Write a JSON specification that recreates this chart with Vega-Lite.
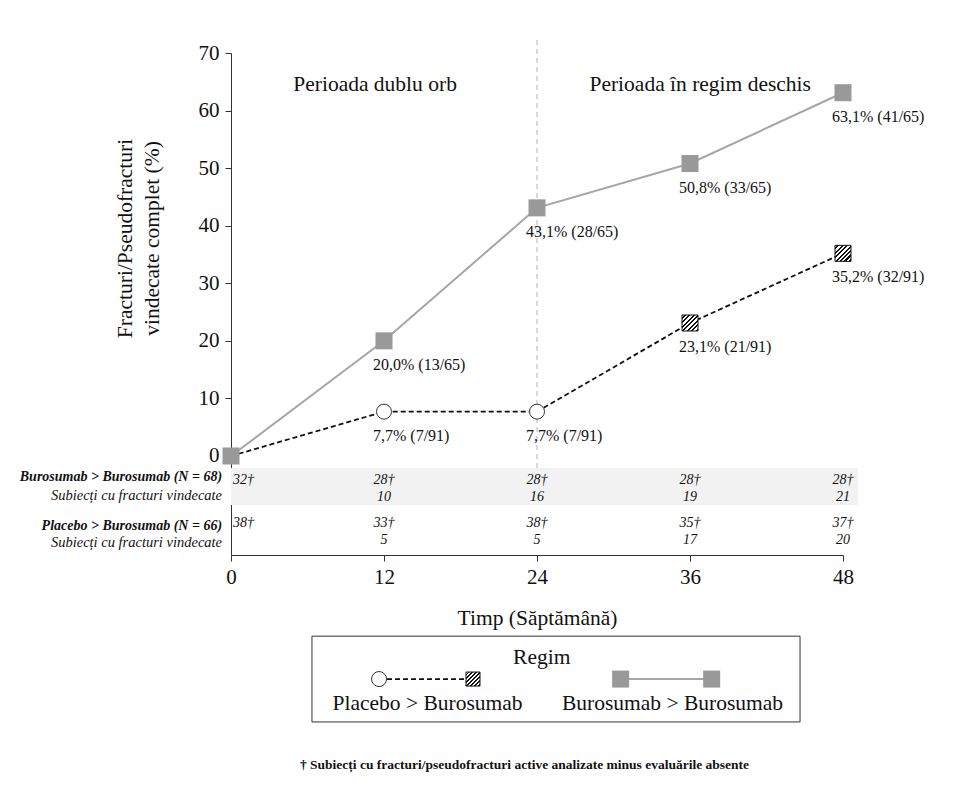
{
  "$schema": "https://vega.github.io/schema/vega-lite/v6.json",
  "width": 612,
  "height": 502,
  "autosize": {"type": "none"},
  "padding": {"left": 231, "top": 53, "right": 111, "bottom": 243},
  "background": "white",
  "config": {
    "view": {"stroke": null},
    "font": "Liberation Serif",
    "text": {"font": "Liberation Serif", "color": "#111"}
  },
  "datasets": {
    "one": [{"k": 1}],
    "series": [
      {"week": 0, "regimen": "Placebo > Burosumab", "pct": 0, "label": ""},
      {"week": 12, "regimen": "Placebo > Burosumab", "pct": 7.7, "label": "7,7% (7/91)"},
      {"week": 24, "regimen": "Placebo > Burosumab", "pct": 7.7, "label": "7,7% (7/91)"},
      {"week": 36, "regimen": "Placebo > Burosumab", "pct": 23.1, "label": "23,1% (21/91)"},
      {"week": 48, "regimen": "Placebo > Burosumab", "pct": 35.2, "label": "35,2% (32/91)"},
      {"week": 0, "regimen": "Burosumab > Burosumab", "pct": 0, "label": ""},
      {"week": 12, "regimen": "Burosumab > Burosumab", "pct": 20.0, "label": "20,0% (13/65)"},
      {"week": 24, "regimen": "Burosumab > Burosumab", "pct": 43.1, "label": "43,1% (28/65)"},
      {"week": 36, "regimen": "Burosumab > Burosumab", "pct": 50.8, "label": "50,8% (33/65)"},
      {"week": 48, "regimen": "Burosumab > Burosumab", "pct": 63.1, "label": "63,1% (41/65)"}
    ],
    "table": [
      {"week": 0, "regimen": "Burosumab > Burosumab", "assessed": "32†", "healed": null},
      {"week": 12, "regimen": "Burosumab > Burosumab", "assessed": "28†", "healed": "10"},
      {"week": 24, "regimen": "Burosumab > Burosumab", "assessed": "28†", "healed": "16"},
      {"week": 36, "regimen": "Burosumab > Burosumab", "assessed": "28†", "healed": "19"},
      {"week": 48, "regimen": "Burosumab > Burosumab", "assessed": "28†", "healed": "21"},
      {"week": 0, "regimen": "Placebo > Burosumab", "assessed": "38†", "healed": null},
      {"week": 12, "regimen": "Placebo > Burosumab", "assessed": "33†", "healed": "5"},
      {"week": 24, "regimen": "Placebo > Burosumab", "assessed": "38†", "healed": "5"},
      {"week": 36, "regimen": "Placebo > Burosumab", "assessed": "35†", "healed": "17"},
      {"week": 48, "regimen": "Placebo > Burosumab", "assessed": "37†", "healed": "20"}
    ]
  },
  "layer": [
    {
      "data": {"name": "one"},
      "mark": {"type": "rect", "fill": "#f2f2f2"},
      "encoding": {
        "x": {"datum": 0, "type": "quantitative",
          "scale": {"domain": [0, 48], "nice": false, "zero": false},
          "axis": {"values": [0, 12, 24, 36, 48], "title": "Timp (Săptămână)", "grid": false,
            "labelFont": "Liberation Serif", "labelFontSize": 21, "labelColor": "#111", "labelFlush": false,
            "titleFont": "Liberation Serif", "titleFontSize": 21.5, "titleFontWeight": "normal", "titleColor": "#111",
            "tickSize": 6, "labelPadding": 5, "titlePadding": 20, "domainColor": "#333", "tickColor": "#333"}},
        "x2": {"datum": 49.18},
        "y": {"datum": -2.08, "type": "quantitative",
          "scale": {"domain": [-17.2, 70], "nice": false, "zero": false},
          "axis": {"values": [0, 10, 20, 30, 40, 50, 60, 70], "title": ["Fracturi/Pseudofracturi", "vindecate complet (%)"], "grid": false,
            "labelFont": "Liberation Serif", "labelFontSize": 21, "labelColor": "#111",
            "titleFont": "Liberation Serif", "titleFontSize": 21.5, "titleFontWeight": "normal", "titleColor": "#111",
            "titleAngle": -90, "titleX": -106, "titleY": 185, "titleBaseline": "middle", "titleLineHeight": 27,
            "tickSize": 6, "labelPadding": 6, "domainColor": "#333", "tickColor": "#333"}},
        "y2": {"datum": -8.51}
      }
    },
    {
      "data": {"name": "one"},
      "mark": {"type": "rule", "stroke": "#b3b3b3", "strokeWidth": 1, "strokeDash": [5, 4]},
      "encoding": {"x": {"datum": 24}, "y": {"datum": 72.26}, "y2": {"datum": -2.08}}
    },
    {
      "data": {"name": "series"},
      "transform": [{"filter": "datum.regimen === 'Burosumab > Burosumab'"}],
      "mark": {"type": "line", "stroke": "#a6a6a6", "strokeWidth": 2},
      "encoding": {"x": {"field": "week", "type": "quantitative"}, "y": {"field": "pct", "type": "quantitative"}}
    },
    {
      "data": {"name": "series"},
      "transform": [{"filter": "datum.regimen === 'Placebo > Burosumab'"}],
      "mark": {"type": "line", "stroke": "#111", "strokeWidth": 1.8, "strokeDash": [5, 3]},
      "encoding": {"x": {"field": "week", "type": "quantitative"}, "y": {"field": "pct", "type": "quantitative"}}
    },
    {
      "data": {"name": "series"},
      "transform": [{"filter": "datum.regimen === 'Placebo > Burosumab' && datum.week <= 24"}],
      "mark": {"type": "point", "shape": "circle", "filled": true, "fill": "white", "stroke": "#333", "strokeWidth": 1, "size": 225, "opacity": 1},
      "encoding": {"x": {"field": "week", "type": "quantitative"}, "y": {"field": "pct", "type": "quantitative"}}
    },
    {
      "data": {"name": "series"},
      "transform": [{"filter": "datum.regimen === 'Placebo > Burosumab' && datum.week > 24"}],
      "mark": {"type": "point", "shape": "square", "filled": true, "stroke": "#111", "strokeWidth": 1, "size": 256, "opacity": 1,
        "fill": {"gradient": "linear", "x1": 0, "y1": 0, "x2": 1, "y2": 1, "stops": [
          {"offset": 0, "color": "#fff"}, {"offset": 0.07, "color": "#fff"}, {"offset": 0.07, "color": "#111"}, {"offset": 0.14, "color": "#111"},
          {"offset": 0.14, "color": "#fff"}, {"offset": 0.21, "color": "#fff"}, {"offset": 0.21, "color": "#111"}, {"offset": 0.28, "color": "#111"},
          {"offset": 0.28, "color": "#fff"}, {"offset": 0.35, "color": "#fff"}, {"offset": 0.35, "color": "#111"}, {"offset": 0.42, "color": "#111"},
          {"offset": 0.42, "color": "#fff"}, {"offset": 0.49, "color": "#fff"}, {"offset": 0.49, "color": "#111"}, {"offset": 0.56, "color": "#111"},
          {"offset": 0.56, "color": "#fff"}, {"offset": 0.63, "color": "#fff"}, {"offset": 0.63, "color": "#111"}, {"offset": 0.70, "color": "#111"},
          {"offset": 0.70, "color": "#fff"}, {"offset": 0.77, "color": "#fff"}, {"offset": 0.77, "color": "#111"}, {"offset": 0.84, "color": "#111"},
          {"offset": 0.84, "color": "#fff"}, {"offset": 0.91, "color": "#fff"}, {"offset": 0.91, "color": "#111"}, {"offset": 0.98, "color": "#111"},
          {"offset": 0.98, "color": "#fff"}, {"offset": 1, "color": "#fff"}]}},
      "encoding": {"x": {"field": "week", "type": "quantitative"}, "y": {"field": "pct", "type": "quantitative"}}
    },
    {
      "data": {"name": "series"},
      "transform": [{"filter": "datum.regimen === 'Burosumab > Burosumab'"}],
      "mark": {"type": "point", "shape": "square", "filled": true, "fill": "#999999", "stroke": null, "size": 289, "opacity": 1},
      "encoding": {"x": {"field": "week", "type": "quantitative"}, "y": {"field": "pct", "type": "quantitative"}}
    },
    {
      "data": {"name": "series"},
      "transform": [{"filter": "datum.label !== ''"}],
      "mark": {"type": "text", "align": "left", "baseline": "middle", "dx": -11, "dy": 24, "fontSize": 16},
      "encoding": {"x": {"field": "week", "type": "quantitative"}, "y": {"field": "pct", "type": "quantitative"}, "text": {"field": "label"}}
    },
    {
      "data": {"name": "one"},
      "mark": {"type": "text", "align": "center", "baseline": "middle", "fontSize": 21.5},
      "encoding": {"x": {"datum": 11.3}, "y": {"datum": 64.4}, "text": {"value": "Perioada dublu orb"}}
    },
    {
      "data": {"name": "one"},
      "mark": {"type": "text", "align": "center", "baseline": "middle", "fontSize": 21.5},
      "encoding": {"x": {"datum": 36.8}, "y": {"datum": 64.4}, "text": {"value": "Perioada în regim deschis"}}
    },
    {
      "data": {"name": "one"},
      "mark": {"type": "text", "align": "right", "baseline": "middle", "fontSize": 14, "fontStyle": "italic", "fontWeight": "bold"},
      "encoding": {"x": {"datum": -0.7}, "y": {"datum": -3.65}, "text": {"value": "Burosumab > Burosumab (N = 68)"}}
    },
    {
      "data": {"name": "one"},
      "mark": {"type": "text", "align": "right", "baseline": "middle", "fontSize": 14.5, "fontStyle": "italic"},
      "encoding": {"x": {"datum": -0.7}, "y": {"datum": -6.95}, "text": {"value": "Subiecți cu fracturi vindecate"}}
    },
    {
      "data": {"name": "one"},
      "mark": {"type": "text", "align": "right", "baseline": "middle", "fontSize": 14, "fontStyle": "italic", "fontWeight": "bold"},
      "encoding": {"x": {"datum": -0.7}, "y": {"datum": -12.16}, "text": {"value": "Placebo > Burosumab (N = 66)"}}
    },
    {
      "data": {"name": "one"},
      "mark": {"type": "text", "align": "right", "baseline": "middle", "fontSize": 14.5, "fontStyle": "italic"},
      "encoding": {"x": {"datum": -0.7}, "y": {"datum": -15.11}, "text": {"value": "Subiecți cu fracturi vindecate"}}
    },
    {
      "data": {"name": "table"},
      "transform": [{"filter": "datum.regimen === 'Burosumab > Burosumab' && datum.week > 0"}],
      "mark": {"type": "text", "align": "center", "baseline": "middle", "fontSize": 14, "fontStyle": "italic"},
      "encoding": {"x": {"field": "week", "type": "quantitative"}, "y": {"datum": -4.17}, "text": {"field": "assessed"}}
    },
    {
      "data": {"name": "table"},
      "transform": [{"filter": "datum.regimen === 'Burosumab > Burosumab' && datum.week === 0"}],
      "mark": {"type": "text", "align": "left", "baseline": "middle", "dx": 2, "fontSize": 14, "fontStyle": "italic"},
      "encoding": {"x": {"field": "week", "type": "quantitative"}, "y": {"datum": -4.17}, "text": {"field": "assessed"}}
    },
    {
      "data": {"name": "table"},
      "transform": [{"filter": "datum.regimen === 'Burosumab > Burosumab' && datum.healed !== null"}],
      "mark": {"type": "text", "align": "center", "baseline": "middle", "fontSize": 14, "fontStyle": "italic"},
      "encoding": {"x": {"field": "week", "type": "quantitative"}, "y": {"datum": -7.12}, "text": {"field": "healed"}}
    },
    {
      "data": {"name": "table"},
      "transform": [{"filter": "datum.regimen === 'Placebo > Burosumab' && datum.week > 0"}],
      "mark": {"type": "text", "align": "center", "baseline": "middle", "fontSize": 14, "fontStyle": "italic"},
      "encoding": {"x": {"field": "week", "type": "quantitative"}, "y": {"datum": -11.64}, "text": {"field": "assessed"}}
    },
    {
      "data": {"name": "table"},
      "transform": [{"filter": "datum.regimen === 'Placebo > Burosumab' && datum.week === 0"}],
      "mark": {"type": "text", "align": "left", "baseline": "middle", "dx": 2, "fontSize": 14, "fontStyle": "italic"},
      "encoding": {"x": {"field": "week", "type": "quantitative"}, "y": {"datum": -11.64}, "text": {"field": "assessed"}}
    },
    {
      "data": {"name": "table"},
      "transform": [{"filter": "datum.regimen === 'Placebo > Burosumab' && datum.healed !== null"}],
      "mark": {"type": "text", "align": "center", "baseline": "middle", "fontSize": 14, "fontStyle": "italic"},
      "encoding": {"x": {"field": "week", "type": "quantitative"}, "y": {"datum": -14.59}, "text": {"field": "healed"}}
    },
    {
      "data": {"name": "one"},
      "mark": {"type": "rect", "fill": null, "fillOpacity": 0, "stroke": "#333", "strokeWidth": 1},
      "encoding": {"x": {"datum": 6.35}, "x2": {"datum": 44.63}, "y": {"datum": -31.3}, "y2": {"datum": -46.2}}
    },
    {
      "data": {"name": "one"},
      "mark": {"type": "text", "align": "center", "baseline": "middle", "fontSize": 21.5},
      "encoding": {"x": {"datum": 24.37}, "y": {"datum": -35.09}, "text": {"value": "Regim"}}
    },
    {
      "data": {"name": "one"},
      "mark": {"type": "rule", "stroke": "#111", "strokeWidth": 1.8, "strokeDash": [5, 3]},
      "encoding": {"x": {"datum": 11.61}, "x2": {"datum": 18.98}, "y": {"datum": -38.75}}
    },
    {
      "data": {"name": "one"},
      "mark": {"type": "point", "shape": "circle", "filled": true, "fill": "white", "stroke": "#333", "strokeWidth": 1, "size": 225, "opacity": 1},
      "encoding": {"x": {"datum": 11.61}, "y": {"datum": -38.75}}
    },
    {
      "data": {"name": "one"},
      "mark": {"type": "point", "shape": "square", "filled": true, "stroke": "#111", "strokeWidth": 1, "size": 196, "opacity": 1,
        "fill": {"gradient": "linear", "x1": 0, "y1": 0, "x2": 1, "y2": 1, "stops": [
          {"offset": 0, "color": "#fff"}, {"offset": 0.07, "color": "#fff"}, {"offset": 0.07, "color": "#111"}, {"offset": 0.14, "color": "#111"},
          {"offset": 0.14, "color": "#fff"}, {"offset": 0.21, "color": "#fff"}, {"offset": 0.21, "color": "#111"}, {"offset": 0.28, "color": "#111"},
          {"offset": 0.28, "color": "#fff"}, {"offset": 0.35, "color": "#fff"}, {"offset": 0.35, "color": "#111"}, {"offset": 0.42, "color": "#111"},
          {"offset": 0.42, "color": "#fff"}, {"offset": 0.49, "color": "#fff"}, {"offset": 0.49, "color": "#111"}, {"offset": 0.56, "color": "#111"},
          {"offset": 0.56, "color": "#fff"}, {"offset": 0.63, "color": "#fff"}, {"offset": 0.63, "color": "#111"}, {"offset": 0.70, "color": "#111"},
          {"offset": 0.70, "color": "#fff"}, {"offset": 0.77, "color": "#fff"}, {"offset": 0.77, "color": "#111"}, {"offset": 0.84, "color": "#111"},
          {"offset": 0.84, "color": "#fff"}, {"offset": 0.91, "color": "#fff"}, {"offset": 0.91, "color": "#111"}, {"offset": 0.98, "color": "#111"},
          {"offset": 0.98, "color": "#fff"}, {"offset": 1, "color": "#fff"}]}},
      "encoding": {"x": {"datum": 18.98}, "y": {"datum": -38.75}}
    },
    {
      "data": {"name": "one"},
      "mark": {"type": "rule", "stroke": "#a6a6a6", "strokeWidth": 2},
      "encoding": {"x": {"datum": 30.56}, "x2": {"datum": 37.7}, "y": {"datum": -38.75}}
    },
    {
      "data": {"name": "one"},
      "mark": {"type": "point", "shape": "square", "filled": true, "fill": "#999999", "stroke": null, "size": 289, "opacity": 1},
      "encoding": {"x": {"datum": 30.56}, "y": {"datum": -38.75}}
    },
    {
      "data": {"name": "one"},
      "mark": {"type": "point", "shape": "square", "filled": true, "fill": "#999999", "stroke": null, "size": 289, "opacity": 1},
      "encoding": {"x": {"datum": 37.7}, "y": {"datum": -38.75}}
    },
    {
      "data": {"name": "one"},
      "mark": {"type": "text", "align": "center", "baseline": "middle", "fontSize": 21.5},
      "encoding": {"x": {"datum": 15.41}, "y": {"datum": -43.0}, "text": {"value": "Placebo > Burosumab"}}
    },
    {
      "data": {"name": "one"},
      "mark": {"type": "text", "align": "center", "baseline": "middle", "fontSize": 21.5},
      "encoding": {"x": {"datum": 34.63}, "y": {"datum": -43.0}, "text": {"value": "Burosumab > Burosumab"}}
    },
    {
      "data": {"name": "one"},
      "mark": {"type": "text", "align": "center", "baseline": "middle", "fontSize": 13.5, "fontWeight": "bold"},
      "encoding": {"x": {"datum": 23.02}, "y": {"datum": -53.67}, "text": {"value": "† Subiecți cu fracturi/pseudofracturi active analizate minus evaluările absente"}}
    }
  ]
}
